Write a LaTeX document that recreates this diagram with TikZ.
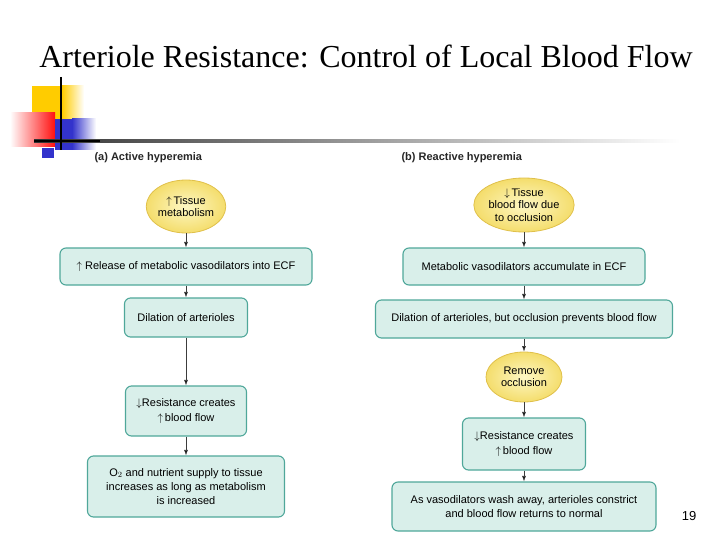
\documentclass[tikz,border=0pt]{standalone}
\usepackage{fontspec}
\setmainfont{Liberation Serif}
\setsansfont{Liberation Sans}
\usetikzlibrary{shapes.geometric,arrows.meta}

\definecolor{boxfill}{HTML}{D9EFEA}
\definecolor{boxline}{HTML}{4FA79A}
\definecolor{ovalin}{HTML}{FDF7C4}
\definecolor{ovalout}{HTML}{F4DD6C}
\definecolor{ovalline}{HTML}{E0C04A}
\definecolor{arrowgray}{HTML}{3C3C3C}
\definecolor{decoyellow}{HTML}{FFCC00}
\definecolor{decoblue}{HTML}{3333CC}
\definecolor{decored}{HTML}{FF1010}

\newcommand{\uparr}{$\uparrow$}
\newcommand{\dnarr}{$\downarrow$}

\begin{document}
\begin{tikzpicture}[x=1pt,y=-1pt,->,>={Latex[length=5.5pt,width=4pt]},
  main/.style = {draw=boxline, fill=boxfill, line width=1.1pt, rounded corners=6pt, align=center, inner sep=1pt, font=\sffamily\fontsize{11}{14.2}\selectfont},
  oval/.style = {ellipse, draw=ovalline, line width=0.8pt, inner color=ovalin, outer color=ovalout, align=center, inner sep=0pt, font=\sffamily\fontsize{11}{12.5}\selectfont},
  part/.style = {anchor=west, font=\sffamily\bfseries\fontsize{11}{13}\selectfont, text=black!85}]
\useasboundingbox (0,0) rectangle (720,540);

% slide decoration
\fill[decoyellow] (32,86) rectangle (62,119);
\shade[left color=decoyellow, right color=white] (62,86) rectangle (84,119);
\shade[left color=white, right color=decored] (10,113) rectangle (55,147);
\fill[decoblue] (55,119) rectangle (72,150);
\shade[left color=decoblue, right color=white] (72,119) rectangle (96,150);
\fill[decoblue] (42,148) rectangle (54,158);
\shade[left color=black!80, right color=white, draw=none] (34,140) rectangle (680,142.5);
\draw[-, line width=2.5pt] (34,141.2) -- (100,141.2);
\draw[-, line width=2.5pt] (61,77) -- (61,150);

\node (title) at (366,56) {\fontsize{32}{34}\selectfont Arteriole Resistance: Control of Local Blood Flow};
\node[part] (pa) at (91,158) {(a) Active hyperemia};
\node[part] (pb) at (398,158) {(b) Reactive hyperemia};

% (a) active
\node[oval, minimum width=76pt, minimum height=53pt] (a0) at (186,206.5) {\uparr\,Tissue\\metabolism};
\node[main, minimum width=252pt, minimum height=37pt] (a1) at (186,266.5) {\uparr\ Release of metabolic vasodilators into ECF};
\node[main, minimum width=123pt, minimum height=39pt] (a2) at (186,317.5) {Dilation of arterioles};
\node[main, minimum width=121pt, minimum height=50pt] (a3) at (186,411) {\dnarr Resistance creates\\\uparr\,blood flow};
\node[main, minimum width=197pt, minimum height=61pt] (a4) at (186,486.5) {O$_2$ and nutrient supply to tissue\\increases as long as metabolism\\is increased};

% (b) reactive
\node[oval, minimum width=77pt, minimum height=54pt] (b0) at (524,205) {\dnarr\,Tissue\\blood flow due\\to occlusion};
\node[main, minimum width=242pt, minimum height=37pt] (b1) at (524,266.5) {Metabolic vasodilators accumulate in ECF};
\node[main, minimum width=297pt, minimum height=38pt] (b2) at (524,319) {Dilation of arterioles, but occlusion prevents blood flow};
\node[oval, minimum width=76pt, minimum height=50pt] (b3) at (524,377) {Remove\\occlusion};
\node[main, minimum width=123pt, minimum height=52pt] (b4) at (524,444) {\dnarr Resistance creates\\\uparr\,blood flow};
\node[main, minimum width=264pt, minimum height=49pt] (b5) at (524,506.5) {As vasodilators wash away, arterioles constrict\\and blood flow returns to normal};

\node (page) at (689,516) {\sffamily\fontsize{13}{15}\selectfont 19};

 \path[draw=arrowgray, line width=0.6pt]
    % left chain
    (a0) edge (a1)
    (a1) edge (a2)
    (a2) edge (a3)
    (a3) edge (a4)
    % right chain
    (b0) edge (b1)
    (b1) edge (b2)
    (b2) edge (b3)
    (b3) edge (b4)
    (b4) edge (b5)
 ;
\end{tikzpicture}
\end{document}
